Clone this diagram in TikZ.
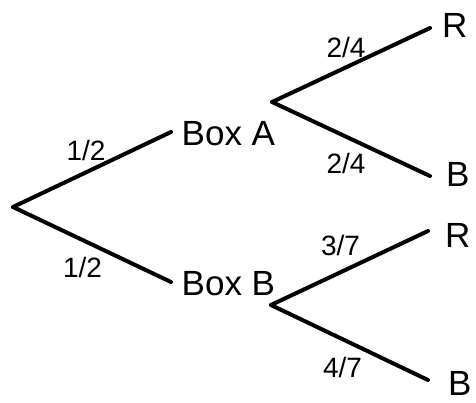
\documentclass[tikz,border=0pt]{standalone}
\usepackage{fontspec}
\setmainfont{Liberation Sans}
\begin{document}
\begin{tikzpicture}[x=1pt,y=-1pt,
  branch/.style={line width=4pt,line cap=round},
  outcome/.style={inner sep=0pt,anchor=base west,font=\fontsize{35}{42}\selectfont},
  prob/.style={inner sep=0pt,anchor=base,font=\fontsize{28}{34}\selectfont}]
\useasboundingbox (0,0) rectangle (476,402);
% junction points
\coordinate (root) at (13,207);
\coordinate (aend) at (171,132);
\coordinate (bend) at (171,282);
\coordinate (asplit) at (272,102);
\coordinate (bsplit) at (271,305);
\coordinate (arend) at (430,28);
\coordinate (abend) at (430,176);
\coordinate (brend) at (428,231);
\coordinate (bbend) at (428,380);
% outcome texts
\node[outcome] (boxa) at (181.5,145) {Box A};
\node[outcome] (boxb) at (181.5,295) {Box B};
\node[outcome] (ar) at (442,37) {R};
\node[outcome] (ab) at (446,186) {B};
\node[outcome] (br) at (445,247) {R};
\node[outcome] (bb) at (448,395) {B};
% branches
\draw[branch] (root) -- (aend);
\draw[branch] (root) -- (bend);
\draw[branch] (asplit) -- (arend);
\draw[branch] (asplit) -- (abend);
\draw[branch] (bsplit) -- (brend);
\draw[branch] (bsplit) -- (bbend);
% probabilities
\node[prob] (p1) at (86,160) {1/2};
\node[prob] (p2) at (82.5,277) {1/2};
\node[prob] (p3) at (346,57) {2/4};
\node[prob] (p4) at (346,173) {2/4};
\node[prob] (p5) at (340.5,255) {3/7};
\node[prob] (p6) at (342.5,377) {4/7};
\end{tikzpicture}
\end{document}
